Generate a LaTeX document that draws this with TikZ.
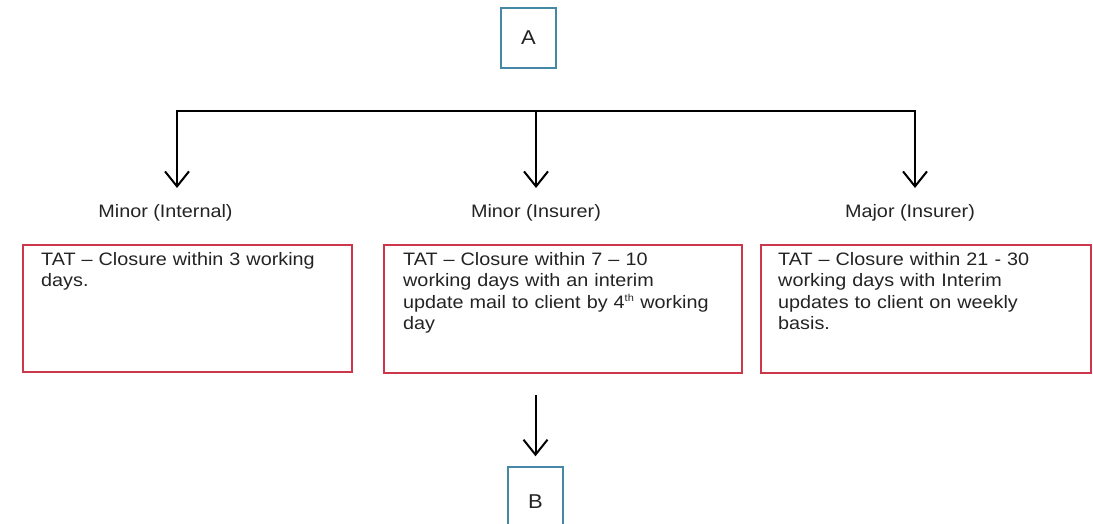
\documentclass[tikz,border=0pt]{standalone}
\usepackage{fontspec}
\setmainfont{Liberation Sans}
\newfontfamily\widesans[FakeStretch=1.1,Ligatures=TeX]{Liberation Sans}
\usetikzlibrary{arrows.meta,calc}
\definecolor{boxred}{RGB}{205,55,75}
\definecolor{boxblue}{RGB}{70,135,165}
\definecolor{ink}{RGB}{35,35,35}
\begin{document}
\begin{tikzpicture}[x=1pt,y=-1pt,
  every node/.style={text=ink},
  letterbox/.style={draw=boxblue,line width=1.4pt,minimum width=55pt,minimum height=60pt,inner sep=0pt,font=\widesans\fontsize{20}{22}\selectfont},
  tatbox/.style={draw=boxred,line width=1.5pt,inner sep=0pt,anchor=north west},
  tattext/.style={anchor=north west,inner sep=0pt,align=left,font=\widesans\fontsize{18}{21.5}\selectfont},
  catlabel/.style={font=\widesans\fontsize{18}{20}\selectfont,inner sep=0pt,anchor=base},
  flow/.style={line width=2pt,-{Straight Barb[length=15pt,width=24pt,line width=2pt]}},
  rail/.style={line width=2pt}]
\useasboundingbox (0,0) rectangle (1093,524);

% top and bottom markers
\node[letterbox] (A) at (528.5,38) {A};
\node[letterbox,minimum height=70pt] (B) at (535.5,502) {B};

% branching rail
\coordinate (rl) at (177,111);
\coordinate (rm) at (536,111);
\coordinate (rr) at (915,111);
\coordinate (tl) at (177,188);
\coordinate (tm) at (536,188);
\coordinate (tr) at (915,188);
\draw[rail,line cap=rect] (rl) -- (rr);
\draw[flow] (rl) -- (tl);
\draw[flow] (rm) -- (tm);
\draw[flow] (rr) -- (tr);

% category labels
\node[catlabel] (lab1) at (165.5,218) {Minor (Internal)};
\node[catlabel] (lab2) at (536,218) {Minor (Insurer)};
\node[catlabel] (lab3) at (910,218) {Major (Insurer)};

% turnaround boxes
\node[tatbox,minimum width=329pt,minimum height=127pt] (b1) at (22,244) {};
\node[tatbox,minimum width=358pt,minimum height=128pt] (b2) at (383,244) {};
\node[tatbox,minimum width=330pt,minimum height=128pt] (b3) at (760,244) {};

\node[tattext,text width=310pt] (t1) at ($(b1.north west)+(19,8)$) {TAT – Closure within 3 working\\days.};
\node[tattext,text width=335pt] (t2) at ($(b2.north west)+(20,8)$) {TAT – Closure within 7 – 10\\working days with an interim\\update mail to client by 4\textsuperscript{\fontsize{10}{10}\selectfont th} working\\day};
\node[tattext,text width=310pt] (t3) at ($(b3.north west)+(18,8)$) {TAT – Closure within 21 - 30\\working days with Interim\\updates to client on weekly\\basis.};

% link to the next stage
\coordinate (bs) at (535.5,395);
\draw[flow,shorten >=10pt] (bs) -- (B.north);
\end{tikzpicture}
\end{document}
